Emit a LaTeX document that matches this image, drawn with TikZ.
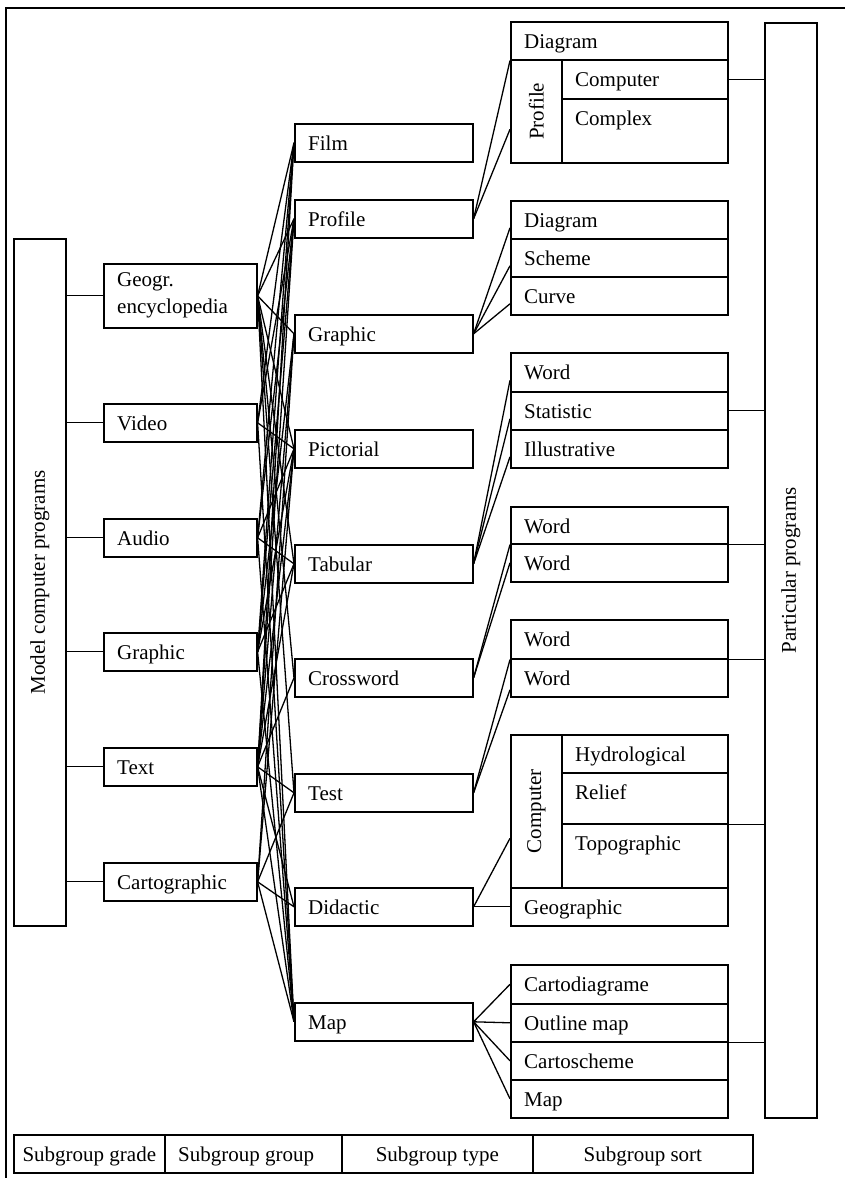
\documentclass[tikz,border=0pt]{standalone}
\usepackage{fontspec}
\setmainfont{Liberation Serif}
\usetikzlibrary{calc}
\newcommand*{\cell}[6]{%
    \node [box, minimum width=#4pt, minimum height=#5pt] (#1) at (#2,#3) {};
    \node [lbl] (#1t) at ([xshift=14pt,yshift=-27pt]#1.north west) {#6};
}
\tikzset{
    box/.style={draw, line width=1.6pt, inner sep=0pt, anchor=north west},
    lbl/.style={anchor=base west, inner sep=0pt},
    wire/.style={line width=1.3pt},
}

\begin{document}
\begin{tikzpicture}[x=1pt, y=-1pt, font=\fontsize{21}{27}\selectfont]
    \useasboundingbox (0,0) rectangle (845,1178);
    \draw [line width=1.6pt] (6,1178) -- (6,8) -- (845,8);

    % subgroup grade
    \node [box, minimum width=52pt, minimum height=687pt] (mcp) at (13,238) {};
    \node [rotate=90] (mcpt) at (mcp.center) {Model computer programs};

    % subgroup group
    \node [box, minimum width=153pt, minimum height=64pt] (g1) at (103,263) {};
    \node [anchor=west, align=left, inner sep=0pt] (g1t) at ([xshift=14pt]g1.west) {Geogr.\\encyclopedia};
    \cell{g2}{103}{403}{153}{38}{Video}
    \cell{g3}{103}{518}{153}{38}{Audio}
    \cell{g4}{103}{632}{153}{38}{Graphic}
    \cell{g5}{103}{747}{153}{38}{Text}
    \cell{g6}{103}{862}{153}{38}{Cartographic}
    \foreach \g in {g1,g2,g3,g4,g5,g6}
        \draw [wire] (\g.west) -- (\g.west -| mcp.east);

    % subgroup type
    \cell{t1}{294}{123}{178}{38}{Film}
    \cell{t2}{294}{199}{178}{38}{Profile}
    \cell{t3}{294}{314}{178}{38}{Graphic}
    \cell{t4}{294}{429}{178}{38}{Pictorial}
    \cell{t5}{294}{544}{178}{38}{Tabular}
    \cell{t6}{294}{658}{178}{38}{Crossword}
    \cell{t7}{294}{773}{178}{38}{Test}
    \cell{t8}{294}{887}{178}{38}{Didactic}
    \cell{t9}{294}{1002}{178}{38}{Map}
    \foreach \g/\t in {g1/t1,g1/t2,g1/t3,g1/t4,g1/t5,g1/t6,g1/t7,g1/t9,
                       g2/t1,g2/t2,g2/t4,g2/t9,
                       g3/t1,g3/t2,g3/t4,g3/t5,g3/t9,
                       g4/t1,g4/t2,g4/t3,g4/t4,g4/t5,g4/t9,
                       g5/t1,g5/t2,g5/t3,g5/t4,g5/t5,g5/t6,g5/t7,g5/t8,g5/t9,
                       g6/t3,g6/t4,g6/t7,g6/t8,g6/t9}
        \draw [wire] (\g.east) -- (\t.west);

    % subgroup sort
    \cell{d1}{510}{21}{217}{38}{Diagram}
    \node [box, minimum width=51pt, minimum height=103pt] (pc1) at (510,59) {};
    \node [rotate=90] (pc1t) at (pc1.center) {Profile};
    \cell{c1a}{561}{59}{166}{39}{Computer}
    \cell{c1b}{561}{98}{166}{64}{Complex}

    \cell{d2}{510}{200}{217}{38}{Diagram}
    \cell{s2}{510}{238}{217}{38}{Scheme}
    \cell{cv2}{510}{276}{217}{38}{Curve}

    \cell{w3}{510}{352}{217}{39}{Word}
    \cell{st3}{510}{391}{217}{38}{Statistic}
    \cell{il3}{510}{429}{217}{38}{Illustrative}

    \cell{w4a}{510}{506}{217}{37}{Word}
    \cell{w4b}{510}{543}{217}{38}{Word}

    \cell{w5a}{510}{619}{217}{39}{Word}
    \cell{w5b}{510}{658}{217}{38}{Word}

    \node [box, minimum width=51pt, minimum height=153pt] (cc6) at (510,734) {};
    \node [rotate=90] (cc6t) at (cc6.center) {Computer};
    \cell{hy6}{561}{734}{166}{38}{Hydrological}
    \cell{re6}{561}{772}{166}{51}{Relief}
    \cell{to6}{561}{823}{166}{64}{Topographic}
    \cell{ge6}{510}{887}{217}{38}{Geographic}

    \cell{ca7}{510}{964}{217}{39}{Cartodiagrame}
    \cell{ou7}{510}{1003}{217}{38}{Outline map}
    \cell{cs7}{510}{1041}{217}{38}{Cartoscheme}
    \cell{mp7}{510}{1079}{217}{38}{Map}

    \draw [wire] (t2.east) -- (d1.south west);
    \draw [wire] (t2.east) -- ([yshift=-18pt]pc1.west);
    \foreach \s in {d2,s2,cv2}
        \draw [wire] (t3.east) -- ([yshift=-8pt]\s.west);
    \foreach \s in {w3,st3,il3}
        \draw [wire] (t5.east) -- ([yshift=-8pt]\s.west);
    \draw [wire] (t6.east) -- (w4a.south west);
    \draw [wire] (t6.east) -- (w4b.west);
    \draw [wire] (t7.east) -- (w5a.south west);
    \draw [wire] (t7.east) -- ([yshift=-12pt]w5b.west);
    \draw [wire] (t8.east) -- (ge6.west);
    \draw [wire] (t8.east) -- ([yshift=-27pt]cc6.west);
    \foreach \s in {ca7,ou7,cs7,mp7}
        \draw [wire] (t9.east) -- (\s.west);

    % particular programs
    \node [box, minimum width=52pt, minimum height=1095pt] (pp) at (764,22) {};
    \node [rotate=90] (ppt) at (pp.center) {Particular programs};
    \foreach \s in {c1a.east, st3.east, w4a.south east, w5a.south east, re6.south east, ou7.south east}
        \draw [wire] (\s) -- (\s -| pp.west);

    % legend
    \node [box, minimum width=151pt, minimum height=38pt] (b1) at (13,1134) {};
    \node [anchor=base, inner sep=0pt] (b1t) at ([yshift=-27pt]b1.north) {Subgroup grade};
    \cell{b2}{164}{1134}{177}{38}{Subgroup group}
    \node [box, minimum width=191pt, minimum height=38pt] (b3) at (341,1134) {};
    \node [anchor=base, inner sep=0pt] (b3t) at ([yshift=-27pt]b3.north) {Subgroup type};
    \node [box, minimum width=220pt, minimum height=38pt] (b4) at (532,1134) {};
    \node [anchor=base, inner sep=0pt] (b4t) at ([yshift=-27pt]b4.north) {Subgroup sort};
\end{tikzpicture}
\end{document}
